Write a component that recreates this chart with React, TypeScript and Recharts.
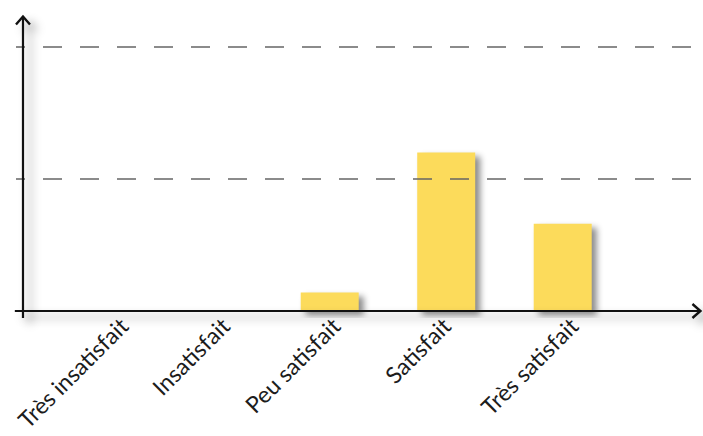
import { BarChart, Bar, XAxis, YAxis, ReferenceLine } from 'recharts'

const categories = ['Très insatisfait', 'Insatisfait', 'Peu satisfait', 'Satisfait', 'Très satisfait']
const values = [0, 0, 7, 60, 33]
const gridValues = [50, 100]

const data = categories.map((name, idx) => ({ idx, name, value: values[idx] }))

// x domain in category units, y domain in percent
const X_DOMAIN: [number, number] = [-0.695, 5.202]
const Y_DOMAIN: [number, number] = [-2.65, 112.1]
const Y_AXIS_AT = -0.635

const labelNudge = [33, 18, 12, 6, 17]

function CategoryTick(props: any) {
  const { x, y, payload, index } = props
  const name = categories[payload.value] ?? ''
  return (
    <g transform={`translate(${x + (labelNudge[index] ?? 10)},${y + 2})`}>
      <text
        textAnchor="end"
        transform="rotate(-45)"
        fill="#1c1c1c"
        fontSize={23}
        fontFamily="Lato, 'Open Sans', sans-serif"
      >
        {name}
      </text>
    </g>
  )
}

function ArrowLine(props: any) {
  const { x1, y1, x2, y2 } = props
  const vertical = Math.abs(x1 - x2) < 1
  const head = vertical
    ? `${x2 - 7},${y2 + 8} ${x2},${y2} ${x2 + 7},${y2 + 8}`
    : `${x2 - 8},${y2 - 7} ${x2},${y2} ${x2 - 8},${y2 + 7}`
  return (
    <g className="axis-shadow">
      <line x1={x1} y1={y1} x2={x2} y2={y2} stroke="#111" strokeWidth={2.2} />
      <polyline points={head} fill="none" stroke="#111" strokeWidth={2.4} />
    </g>
  )
}

export default function App() {
  return (
    <div style={{ position: 'absolute', left: 0, top: 0, width: 703, height: 436, background: '#fff' }}>
      <style>{`
        .bar-shadow path { filter: drop-shadow(5px 4px 3px rgba(0,0,0,0.45)); }
        .axis-shadow { filter: drop-shadow(7px 6px 5px rgba(0,0,0,0.4)); }
      `}</style>
      <BarChart
        width={703}
        height={436}
        data={data}
        margin={{ top: 15, right: 0, bottom: 0, left: 16 }}
      >
        <XAxis
          dataKey="idx"
          type="number"
          domain={X_DOMAIN}
          ticks={[0, 1, 2, 3, 4]}
          allowDataOverflow
          axisLine={false}
          tickLine={false}
          height={118}
          interval={0}
          tick={<CategoryTick />}
        />
        <YAxis hide type="number" domain={Y_DOMAIN} allowDataOverflow />
        {gridValues.map((v) => (
          <ReferenceLine
            key={v}
            y={v}
            stroke="#666"
            strokeWidth={1.5}
            strokeDasharray="19 18"
            strokeDashoffset={10}
          />
        ))}
        <Bar
          dataKey="value"
          fill="#fcdb5b"
          barSize={58}
          className="bar-shadow"
          isAnimationActive={false}
        />
        <ReferenceLine
          segment={[{ x: Y_AXIS_AT, y: Y_DOMAIN[0] }, { x: Y_AXIS_AT, y: 111.5 }]}
          shape={<ArrowLine />}
          ifOverflow="visible"
        />
        <ReferenceLine
          segment={[{ x: -0.705, y: 0 }, { x: 5.18, y: 0 }]}
          shape={<ArrowLine />}
          ifOverflow="visible"
        />
      </BarChart>
    </div>
  )
}
